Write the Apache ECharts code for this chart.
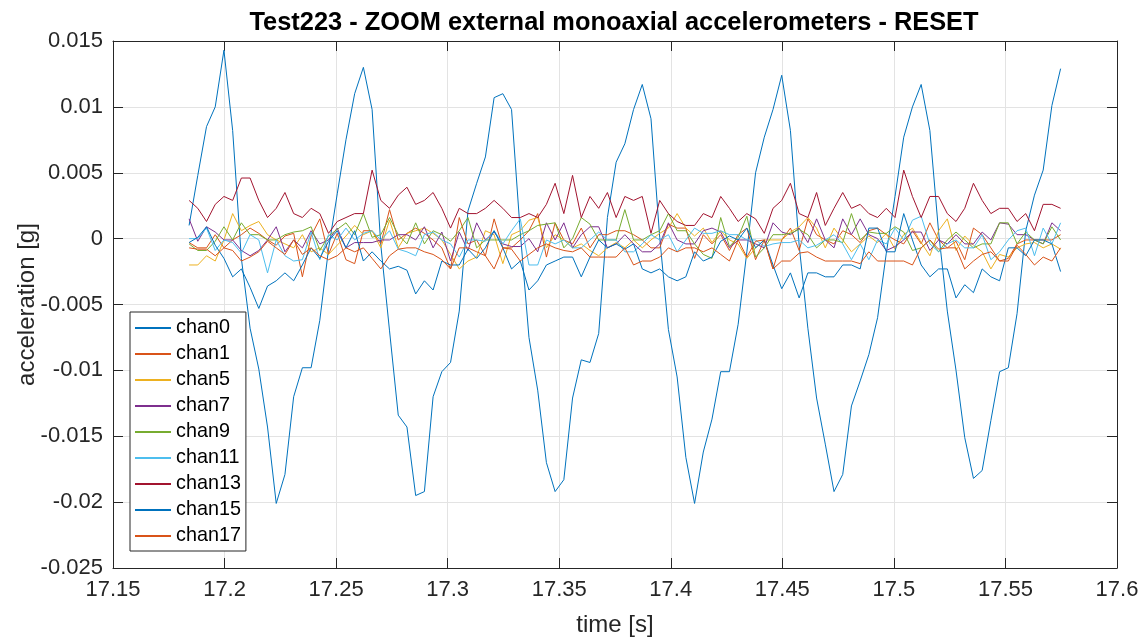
<!DOCTYPE html>
<html>
<head>
<meta charset="utf-8">
<title>Test223 - ZOOM external monoaxial accelerometers - RESET</title>
<script src="https://cdn.jsdelivr.net/npm/echarts@6/dist/echarts.min.js"></script>
<style>
  html, body { margin: 0; padding: 0; background: #fff; }
  #chart { width: 1147px; height: 642px; }
</style>
</head>
<body>
<div id="chart"></div>
<script>
// sampling grid (256 Hz)
const T0 = 17.1841
const DT = 1 / 256
const N_SAMPLES = 101

const chan0 = [
  0.0010, 0.0048, 0.0085, 0.0100, 0.0143, 0.0082, -0.0015, -0.0068, -0.0099, -0.0143,
  -0.0201, -0.0179, -0.0120, -0.0098, -0.0098, -0.0062, -0.0008, 0.0034, 0.0075, 0.0110,
  0.0130, 0.0098, -0.0005, -0.0070, -0.0134, -0.0143, -0.0195, -0.0192, -0.0120, -0.0101,
  -0.0094, -0.0055, 0.0021, 0.0042, 0.0062, 0.0107, 0.0110, 0.0098, 0.0005, -0.0075,
  -0.0115, -0.0170, -0.0192, -0.0183, -0.0121, -0.0092, -0.0094, -0.0072, 0.0016, 0.0058,
  0.0072, 0.0098, 0.0117, 0.0091, 0.0001, -0.0069, -0.0105, -0.0166, -0.0201, -0.0162,
  -0.0137, -0.0101, -0.0101, -0.0065, -0.0010, 0.0050, 0.0077, 0.0098, 0.0124, 0.0082,
  -0.0005, -0.0068, -0.0121, -0.0156, -0.0192, -0.0179, -0.0127, -0.0108, -0.0088, -0.0060,
  -0.0011, 0.0032, 0.0077, 0.0100, 0.0117, 0.0082, 0.0005, -0.0055, -0.0100, -0.0151,
  -0.0182, -0.0176, -0.0138, -0.0101, -0.0098, -0.0057, 0.0006, 0.0033, 0.0052, 0.0101,
  0.0129
]
const chan1 = [
  -0.0003, -0.0007, -0.0007, 0.0003, -0.0007, -0.0001, 0.0003, 0.0008, 0.0004, -0.0001,
  -0.0005, 0.0002, 0.0004, -0.0029, 0.0002, 0.0015, -0.0012, 0.0004, -0.0016, -0.0019,
  0.0006, 0.0006, -0.0004, 0.0022, -0.0001, 0.0004, 0.0008, 0.0004, -0.0001, -0.0007,
  -0.0023, 0.0016, -0.0004, -0.0001, -0.0013, 0.0015, -0.0007, -0.0007, -0.0001, 0.0006,
  0.0019, -0.0014, 0.0012, -0.0001, -0.0004, 0.0008, -0.0007, 0.0003, 0.0003, 0.0006,
  0.0006, 0.0003, -0.0001, -0.0007, -0.0007, 0.0011, 0.0008, 0.0008, -0.0015, 0.0003,
  -0.0004, 0.0003, -0.0009, 0.0003, 0.0008, -0.0016, -0.0001, -0.0023, -0.0001, 0.0008,
  -0.0009, 0.0015, 0.0003, -0.0001, -0.0004, 0.0006, 0.0003, -0.0003, 0.0006, 0.0008,
  0.0003, -0.0001, -0.0004, 0.0006, -0.0004, 0.0012, -0.0001, -0.0007, -0.0002, -0.0016,
  0.0008, 0.0003, -0.0007, -0.0017, -0.0015, -0.0004, -0.0001, -0.0001, -0.0001, -0.0001,
  0.0003
]
const chan5 = [
  -0.0020, -0.0020, -0.0013, -0.0017, -0.0001, 0.0019, 0.0006, 0.0010, 0.0013, 0.0003,
  -0.0001, -0.0004, -0.0007, 0.0003, -0.0010, -0.0007, -0.0012, -0.0005, 0.0002, 0.0010,
  0.0003, 0.0006, -0.0007, 0.0014, -0.0007, 0.0004, 0.0006, 0.0008, 0.0004, -0.0001,
  -0.0012, -0.0023, -0.0017, -0.0014, 0.0006, 0.0003, -0.0019, 0.0003, 0.0006, 0.0014,
  0.0016, -0.0007, 0.0003, -0.0001, -0.0007, -0.0004, -0.0009, -0.0013, -0.0007, -0.0003,
  -0.0007, -0.0001, -0.0007, -0.0001, 0.0004, 0.0008, 0.0019, 0.0008, 0.0002, 0.0008,
  -0.0003, 0.0006, -0.0001, -0.0004, -0.0015, -0.0007, -0.0001, -0.0001, -0.0001, 0.0005,
  0.0009, 0.0016, 0.0008, -0.0007, 0.0008, -0.0001, -0.0010, -0.0004, 0.0002, -0.0003,
  0.0004, -0.0008, 0.0003, 0.0008, -0.0003, -0.0013, 0.0006, 0.0015, -0.0009, 0.0002,
  -0.0005, -0.0010, -0.0023, -0.0012, -0.0014, -0.0007, -0.0004, -0.0003, -0.0007, -0.0004,
  -0.0008
]
const chan7 = [
  0.0015, -0.0002, 0.0009, 0.0005, -0.0001, -0.0001, -0.0009, -0.0013, -0.0009, -0.0001,
  0.0009, -0.0010, -0.0001, -0.0007, 0.0006, -0.0004, -0.0001, 0.0008, -0.0007, -0.0003,
  -0.0003, -0.0003, -0.0001, -0.0001, 0.0003, 0.0003, -0.0001, 0.0009, -0.0007, 0.0005,
  -0.0017, 0.0005, -0.0009, 0.0012, -0.0001, 0.0005, -0.0004, -0.0006, -0.0006, 0.0000,
  -0.0010, 0.0012, -0.0001, 0.0012, -0.0007, 0.0003, 0.0009, 0.0009, -0.0007, -0.0004,
  0.0003, -0.0004, -0.0010, -0.0010, -0.0004, 0.0012, -0.0001, -0.0004, -0.0004, 0.0006,
  0.0008, 0.0005, -0.0007, -0.0001, -0.0001, -0.0004, -0.0007, 0.0012, 0.0005, 0.0003,
  0.0008, -0.0003, 0.0015, -0.0001, -0.0007, 0.0015, 0.0003, 0.0015, 0.0003, 0.0000,
  -0.0009, -0.0006, -0.0001, 0.0005, 0.0005, -0.0009, -0.0001, -0.0004, 0.0003, -0.0004,
  -0.0004, 0.0005, -0.0001, 0.0012, 0.0011, 0.0003, 0.0003, -0.0001, -0.0004, 0.0012,
  0.0006
]
const chan9 = [
  -0.0004, -0.0009, -0.0009, -0.0002, 0.0009, -0.0001, 0.0012, 0.0003, 0.0003, -0.0001,
  -0.0001, 0.0003, 0.0005, 0.0006, 0.0009, -0.0009, 0.0002, 0.0007, 0.0012, 0.0003,
  0.0019, 0.0001, 0.0003, 0.0016, 0.0003, -0.0004, 0.0012, -0.0004, 0.0006, 0.0003,
  -0.0002, 0.0006, 0.0016, -0.0007, -0.0001, -0.0001, -0.0001, -0.0001, 0.0003, 0.0006,
  0.0010, 0.0011, 0.0012, -0.0007, 0.0000, 0.0016, 0.0011, -0.0001, -0.0001, -0.0001,
  0.0022, -0.0001, -0.0001, 0.0003, 0.0006, 0.0019, 0.0006, 0.0006, -0.0004, -0.0012,
  -0.0015, 0.0016, -0.0006, 0.0001, 0.0017, -0.0014, -0.0007, 0.0003, 0.0003, 0.0004,
  0.0007, 0.0003, -0.0007, -0.0001, -0.0001, -0.0003, 0.0019, -0.0001, 0.0005, 0.0004,
  0.0004, 0.0009, 0.0005, -0.0009, -0.0007, -0.0001, -0.0010, -0.0001, 0.0005, -0.0001,
  -0.0007, -0.0004, -0.0004, 0.0012, 0.0012, -0.0004, 0.0005, -0.0001, -0.0004, 0.0009,
  -0.0001
]
const chan11 = [
  0.0000, 0.0000, 0.0008, -0.0009, -0.0001, -0.0003, -0.0011, 0.0003, -0.0001, -0.0026,
  -0.0001, -0.0013, -0.0017, -0.0016, 0.0005, -0.0016, 0.0003, -0.0001, 0.0008, -0.0001,
  0.0004, 0.0006, -0.0001, 0.0006, -0.0008, -0.0010, -0.0013, 0.0003, 0.0005, -0.0001,
  -0.0004, -0.0014, -0.0001, -0.0001, -0.0002, 0.0006, -0.0004, 0.0006, 0.0015, -0.0020,
  -0.0020, -0.0001, -0.0004, -0.0001, -0.0007, -0.0007, -0.0001, 0.0005, -0.0001, -0.0001,
  -0.0010, -0.0010, -0.0004, 0.0003, -0.0001, 0.0003, -0.0010, -0.0001, 0.0008, 0.0004,
  0.0004, 0.0006, 0.0003, 0.0003, -0.0001, -0.0001, -0.0006, -0.0004, -0.0003, -0.0003,
  -0.0001, -0.0007, -0.0005, -0.0001, 0.0003, -0.0004, -0.0016, -0.0004, -0.0016, -0.0001,
  -0.0004, 0.0008, -0.0001, 0.0014, 0.0017, -0.0004, -0.0010, -0.0004, -0.0001, -0.0007,
  -0.0007, 0.0003, -0.0016, -0.0010, -0.0001, 0.0006, 0.0008, -0.0013, 0.0008, -0.0004,
  0.0012
]
const chan13 = [
  0.0029, 0.0023, 0.0013, 0.0026, 0.0032, 0.0029, 0.0046, 0.0046, 0.0029, 0.0016,
  0.0023, 0.0035, 0.0019, 0.0016, 0.0023, 0.0019, 0.0004, 0.0013, 0.0016, 0.0019,
  0.0019, 0.0052, 0.0029, 0.0023, 0.0033, 0.0039, 0.0026, 0.0029, 0.0035, 0.0023,
  0.0008, 0.0023, 0.0019, 0.0019, 0.0023, 0.0029, 0.0023, 0.0016, 0.0016, 0.0019,
  0.0016, 0.0026, 0.0042, 0.0019, 0.0048, 0.0016, 0.0032, 0.0023, 0.0035, 0.0016,
  0.0032, 0.0029, 0.0032, 0.0004, 0.0029, 0.0019, 0.0013, 0.0010, 0.0010, 0.0019,
  0.0016, 0.0032, 0.0023, 0.0013, 0.0019, 0.0015, 0.0004, 0.0023, 0.0029, 0.0042,
  0.0019, 0.0016, 0.0035, 0.0010, 0.0023, 0.0035, 0.0023, 0.0026, 0.0019, 0.0016,
  0.0023, 0.0016, 0.0052, 0.0032, 0.0016, 0.0032, 0.0032, 0.0019, 0.0013, 0.0023,
  0.0042, 0.0029, 0.0019, 0.0023, 0.0023, 0.0013, 0.0019, 0.0006, 0.0026, 0.0026,
  0.0023
]
const chan15 = [
  -0.0003, 0.0001, 0.0009, -0.0005, -0.0015, -0.0029, -0.0023, -0.0037, -0.0053, -0.0036,
  -0.0032, -0.0026, -0.0032, -0.0020, -0.0007, -0.0015, -0.0002, 0.0006, -0.0007, 0.0006,
  -0.0017, -0.0010, -0.0017, -0.0023, -0.0021, -0.0024, -0.0042, -0.0032, -0.0039, -0.0017,
  -0.0020, -0.0020, -0.0008, -0.0015, -0.0007, 0.0006, -0.0007, -0.0023, -0.0017, -0.0039,
  -0.0032, -0.0020, -0.0017, -0.0014, -0.0014, -0.0029, -0.0014, -0.0001, -0.0007, -0.0004,
  -0.0008, -0.0004, -0.0023, -0.0026, -0.0023, -0.0029, -0.0032, -0.0029, -0.0010, -0.0017,
  -0.0014, -0.0002, 0.0002, -0.0001, 0.0008, -0.0007, -0.0001, -0.0020, -0.0038, -0.0026,
  -0.0045, -0.0026, -0.0026, -0.0029, -0.0029, -0.0020, -0.0020, -0.0023, 0.0008, 0.0008,
  -0.0010, -0.0010, 0.0019, -0.0001, -0.0020, -0.0029, -0.0023, -0.0023, -0.0045, -0.0035,
  -0.0041, -0.0023, -0.0029, -0.0032, -0.0007, -0.0007, -0.0013, -0.0001, -0.0001, -0.0004,
  -0.0025
]
const chan17 = [
  -0.0007, -0.0008, -0.0008, -0.0013, -0.0007, -0.0009, -0.0017, -0.0014, -0.0010, -0.0002,
  -0.0007, -0.0012, -0.0001, -0.0012, -0.0007, -0.0013, -0.0016, -0.0013, -0.0007, -0.0010,
  -0.0007, -0.0015, -0.0023, -0.0013, -0.0008, -0.0007, -0.0007, -0.0010, -0.0012, -0.0016,
  -0.0023, -0.0007, -0.0007, -0.0010, -0.0013, -0.0023, -0.0007, -0.0008, -0.0017, -0.0012,
  -0.0007, -0.0004, -0.0007, -0.0009, -0.0010, -0.0007, -0.0014, -0.0014, -0.0014, -0.0014,
  -0.0007, -0.0020, -0.0017, -0.0017, -0.0014, -0.0007, -0.0010, -0.0007, -0.0007, -0.0010,
  -0.0007, -0.0012, -0.0017, -0.0001, -0.0014, -0.0002, -0.0001, -0.0023, -0.0017, -0.0017,
  -0.0011, -0.0010, -0.0014, -0.0017, -0.0017, -0.0017, -0.0017, -0.0019, -0.0010, -0.0017,
  -0.0017, -0.0017, -0.0017, -0.0020, -0.0007, -0.0001, -0.0008, -0.0007, -0.0007, -0.0023,
  -0.0017, -0.0012, -0.0010, -0.0017, -0.0017, -0.0005, -0.0012, -0.0020, -0.0014, -0.0017,
  -0.0007
]

const channelNames = ['chan0', 'chan1', 'chan5', 'chan7', 'chan9', 'chan11', 'chan13', 'chan15', 'chan17']
const channelValues = [chan0, chan1, chan5, chan7, chan9, chan11, chan13, chan15, chan17]
// matlab default colour order, wraps after 7
const colors = ['#0072BD', '#D95319', '#EDB120', '#7E2F8E', '#77AC30', '#4DBEEE', '#A2142F', '#0072BD', '#D95319']

const xTicks = [17.15, 17.6, 0.05]      // min, max, step
const yTicks = [-0.025, 0.015, 0.005]

const FONT = "'Liberation Sans', Arial, Helvetica, sans-serif"
const INK = '#262626'

const times = []
for (let i = 0; i < N_SAMPLES; i++) times.push(T0 + i * DT)

const chart = echarts.init(document.getElementById('chart'))

const axisCommon = {
  type: 'value',
  axisLine: { show: true, onZero: false, lineStyle: { color: INK, width: 1 } },
  axisTick: { show: true, inside: true, length: 10, lineStyle: { color: INK, width: 1 } }
}

const option = {
  animation: false,
  backgroundColor: '#fff',
  color: colors,
  title: {
    text: 'Test223 - ZOOM external monoaxial accelerometers - RESET',
    left: 609,
    top: 5,
    textAlign: 'center',
    textStyle: { fontFamily: FONT, fontSize: 25.4, fontWeight: 'bold', color: '#000' }
  },
  grid: { left: 113, right: 30, top: 41, bottom: 74, containLabel: false, outerBoundsMode: 'none' },
  legend: {
    orient: 'vertical',
    left: 130,
    top: 312,
    backgroundColor: '#fff',
    borderColor: INK,
    borderWidth: 1,
    borderRadius: 0,
    padding: [5, 5, 4, 5],
    icon: 'rect',
    itemWidth: 36,
    itemHeight: 2,
    itemGap: 4,
    textStyle: { fontFamily: FONT, fontSize: 19.8, lineHeight: 22, color: '#000' },
    data: channelNames
  },
  xAxis: [
    Object.assign({}, axisCommon, {
      position: 'bottom',
      min: xTicks[0], max: xTicks[1], interval: xTicks[2],
      name: 'time [s]',
      nameLocation: 'middle',
      nameGap: 45,
      nameMoveOverlap: false,
      nameTextStyle: { fontFamily: FONT, fontSize: 24, color: INK },
      axisLabel: {
        fontFamily: FONT, fontSize: 22, color: INK, margin: 11,
        formatter: v => String(Number(v.toFixed(2)))
      },
      splitLine: { show: true, lineStyle: { color: '#e3e3e3', width: 1 } }
    }),
    Object.assign({}, axisCommon, {
      position: 'top',
      min: xTicks[0], max: xTicks[1], interval: xTicks[2],
      axisLabel: { show: false },
      splitLine: { show: false }
    })
  ],
  yAxis: [
    Object.assign({}, axisCommon, {
      position: 'left',
      min: yTicks[0], max: yTicks[1], interval: yTicks[2],
      name: 'acceleration [g]',
      nameLocation: 'middle',
      nameGap: 74,
      nameMoveOverlap: false,
      nameTextStyle: { fontFamily: FONT, fontSize: 24, color: INK },
      axisLabel: {
        fontFamily: FONT, fontSize: 22, color: INK, margin: 10,
        formatter: v => String(Number(v.toFixed(4)))
      },
      splitLine: { show: true, lineStyle: { color: '#e3e3e3', width: 1 } }
    }),
    Object.assign({}, axisCommon, {
      position: 'right',
      min: yTicks[0], max: yTicks[1], interval: yTicks[2],
      axisLabel: { show: false },
      splitLine: { show: false }
    })
  ],
  series: channelNames.map((name, k) => ({
    name: name,
    type: 'line',
    xAxisIndex: 0,
    yAxisIndex: 0,
    symbol: 'none',
    showSymbol: false,
    silent: true,
    lineStyle: { width: 1, color: colors[k] },
    itemStyle: { color: colors[k] },
    data: channelValues[k].map((v, i) => [times[i], v])
  }))
}

chart.setOption(option)
</script>
</body>
</html>
